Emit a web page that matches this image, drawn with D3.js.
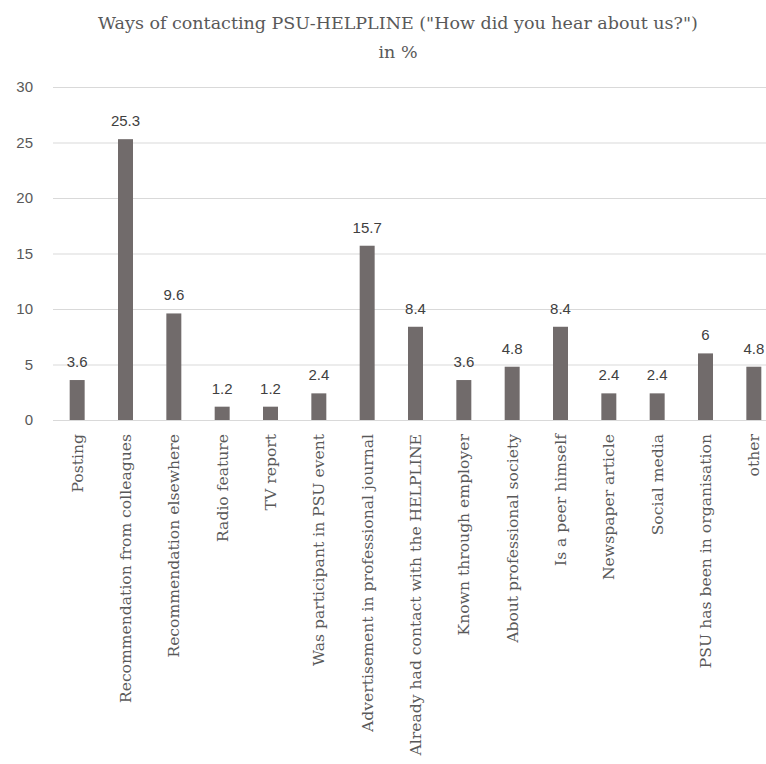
<!DOCTYPE html>
<html>
<head>
<meta charset="utf-8">
<script src="https://cdn.jsdelivr.net/npm/d3@7"></script>
<style>
  body { margin: 0; background: #fff; }
</style>
</head>
<body>
<svg id="chart" width="766" height="764"></svg>
<script>
const categories = [
  'Posting', 'Recommendation from colleagues', 'Recommendation elsewhere',
  'Radio feature', 'TV report', 'Was participant in PSU event',
  'Advertisement in professional journal', 'Already had contact with the HELPLINE',
  'Known through employer', 'About professional society', 'Is a peer himself',
  'Newspaper article', 'Social media', 'PSU has been in organisation', 'other'
]
const values = [3.6, 25.3, 9.6, 1.2, 1.2, 2.4, 15.7, 8.4, 3.6, 4.8, 8.4, 2.4, 2.4, 6, 4.8]
const yTicks = [0, 5, 10, 15, 20, 25, 30]
const titleLines = ['Ways of contacting PSU-HELPLINE ("How did you hear about us?")', 'in %']

const serif = "'DejaVu Serif', 'Liberation Serif', serif"

const svg = d3.select('#chart')

const x = d3.scaleBand()
  .domain(categories)
  .range([53, 778])
  .paddingInner(0.69)
  .paddingOuter(0.345)

const y = d3.scaleLinear()
  .domain([0, 30])
  .range([420, 87])

// title
svg.append('g')
  .selectAll('text')
  .data(titleLines)
  .enter()
  .append('text')
  .attr('x', 398)
  .attr('y', (d, i) => 29 + i * 29)
  .attr('text-anchor', 'middle')
  .style('font-family', serif)
  .style('font-size', '17.5px')
  .attr('fill', '#595959')
  .text(d => d)

// gridlines + y labels
const yAxis = d3.axisLeft(y)
  .tickValues(yTicks)
  .tickSize(-(766 - 53))
  .tickPadding(20)

svg.append('g')
  .attr('transform', 'translate(53,0)')
  .call(yAxis)
  .call(g => g.select('.domain').remove())
  .call(g => g.selectAll('line').attr('stroke', '#d9d9d9'))
  .call(g => g.selectAll('text')
    .attr('fill', '#595959')
    .style('font-family', 'Liberation Sans')
    .style('font-size', '15px'))

// bars
svg.append('g')
  .selectAll('rect')
  .data(values)
  .enter()
  .append('rect')
  .attr('x', (d, i) => x(categories[i]))
  .attr('y', d => y(d))
  .attr('width', x.bandwidth())
  .attr('height', d => y(0) - y(d))
  .attr('fill', '#716b6b')

// value labels
svg.append('g')
  .selectAll('text')
  .data(values)
  .enter()
  .append('text')
  .attr('x', (d, i) => x(categories[i]) + x.bandwidth() / 2)
  .attr('y', d => y(d) - 13)
  .attr('text-anchor', 'middle')
  .attr('fill', '#404040')
  .style('font-family', 'Liberation Sans')
  .style('font-size', '15px')
  .text(d => d)

// category axis
const xAxis = d3.axisBottom(x).tickSize(0).tickPadding(0)
svg.append('g')
  .attr('transform', `translate(0,${y(0)})`)
  .call(xAxis)
  .call(g => g.select('.domain').attr('stroke', '#d9d9d9').attr('d', 'M53,0.5H766'))
  .call(g => g.selectAll('text')
    .attr('transform', 'rotate(-90)')
    .attr('x', -14)
    .attr('y', 0)
    .attr('dy', '0.35em')
    .attr('text-anchor', 'end')
    .attr('fill', '#595959')
    .style('font-family', serif)
    .style('font-size', '15.6px'))
</script>
</body>
</html>
